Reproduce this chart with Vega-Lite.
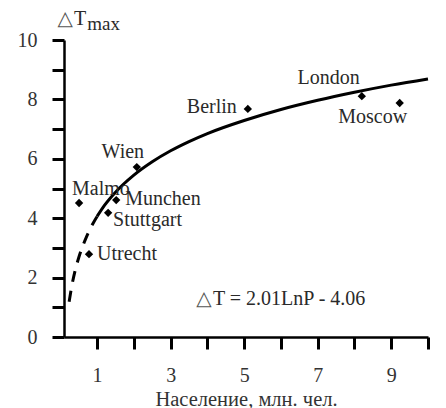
{
  "$schema": "https://vega.github.io/schema/vega-lite/v6.json",
  "autosize": "none",
  "width": 364,
  "height": 297,
  "padding": {"left": 64, "top": 40, "right": 18, "bottom": 71},
  "background": "white",
  "config": {
    "view": {"stroke": null},
    "font": "Liberation Serif",
    "axis": {
      "grid": false,
      "domainColor": "black",
      "domainWidth": 2.5,
      "tickColor": "black",
      "tickWidth": 3,
      "tickSize": 12,
      "labelFont": "Liberation Serif",
      "labelFontSize": 20,
      "labelColor": "#333",
      "titleFont": "Liberation Serif",
      "titleFontWeight": "normal",
      "titleColor": "#333"
    },
    "text": {"font": "Liberation Serif", "fontSize": 20, "color": "#2a2a2a"}
  },
  "datasets": {
    "cities": [
      {"city": "Malmo", "P": 0.51, "dT": 4.51},
      {"city": "Munchen", "P": 1.52, "dT": 4.61},
      {"city": "Stuttgart", "P": 1.3, "dT": 4.18},
      {"city": "Utrecht", "P": 0.78, "dT": 2.79},
      {"city": "Wien", "P": 2.08, "dT": 5.72},
      {"city": "Berlin", "P": 5.1, "dT": 7.68},
      {"city": "London", "P": 8.2, "dT": 8.11},
      {"city": "Moscow", "P": 9.23, "dT": 7.88}
    ],
    "curve": [
      {"part": "dashed", "P": 0.24, "dT": 1.19},
      {"part": "dashed", "P": 0.3, "dT": 1.64},
      {"part": "dashed", "P": 0.4, "dT": 2.22},
      {"part": "dashed", "P": 0.5, "dT": 2.67},
      {"part": "dashed", "P": 0.6, "dT": 3.03},
      {"part": "dashed", "P": 0.7, "dT": 3.34},
      {"part": "dashed", "P": 0.8, "dT": 3.61},
      {"part": "dashed", "P": 0.9, "dT": 3.85},
      {"part": "dashed", "P": 1.0, "dT": 4.06},
      {"part": "solid", "P": 1.0, "dT": 4.06},
      {"part": "solid", "P": 1.2, "dT": 4.43},
      {"part": "solid", "P": 1.5, "dT": 4.875},
      {"part": "solid", "P": 2.0, "dT": 5.45},
      {"part": "solid", "P": 2.5, "dT": 5.9},
      {"part": "solid", "P": 3.0, "dT": 6.27},
      {"part": "solid", "P": 3.5, "dT": 6.58},
      {"part": "solid", "P": 4.0, "dT": 6.85},
      {"part": "solid", "P": 5.0, "dT": 7.29},
      {"part": "solid", "P": 6.0, "dT": 7.66},
      {"part": "solid", "P": 7.0, "dT": 7.97},
      {"part": "solid", "P": 8.0, "dT": 8.24},
      {"part": "solid", "P": 9.0, "dT": 8.48},
      {"part": "solid", "P": 10.0, "dT": 8.69}
    ],
    "notes": [
      {"kind": "tri", "text": "△", "P": 3.7, "dT": 1.08},
      {"kind": "main", "text": "T = 2.01LnP - 4.06", "P": 4.15, "dT": 1.08},
      {"kind": "tri", "text": "△", "P": -0.08, "dT": 10.5},
      {"kind": "main", "text": "T", "P": 0.375, "dT": 10.5},
      {"kind": "sub", "text": "max", "P": 0.73, "dT": 10.34}
    ]
  },
  "encoding": {
    "x": {
      "field": "P", "type": "quantitative",
      "scale": {"domain": [0.1, 10], "nice": false, "zero": false},
      "axis": {
        "values": [1, 2, 3, 4, 5, 6, 7, 8, 9, 10],
        "labelExpr": "datum.value % 2 == 1 ? datum.label : ''",
        "labelPadding": 16,
        "title": "Население, млн. чел.",
        "titleFontSize": 20.5,
        "titlePadding": 4
      }
    },
    "y": {
      "field": "dT", "type": "quantitative",
      "scale": {"domain": [0, 10], "nice": false},
      "axis": {
        "values": [0, 1, 2, 3, 4, 5, 6, 7, 8, 9, 10],
        "labelExpr": "datum.value % 2 == 0 ? datum.label : ''",
        "labelPadding": 15,
        "title": null
      }
    }
  },
  "layer": [
    {
      "data": {"name": "curve"},
      "transform": [{"filter": "datum.part == 'dashed'"}],
      "mark": {"type": "line", "color": "black", "strokeWidth": 3, "strokeDash": [11, 9], "interpolate": "monotone"}
    },
    {
      "data": {"name": "curve"},
      "transform": [{"filter": "datum.part == 'solid'"}],
      "mark": {"type": "line", "color": "black", "strokeWidth": 3, "interpolate": "monotone"}
    },
    {
      "data": {"name": "cities"},
      "mark": {"type": "point", "shape": "diamond", "filled": true, "color": "black", "size": 70, "opacity": 1}
    },
    {
      "data": {"name": "cities"},
      "transform": [{"filter": "datum.city == 'Malmo'"}],
      "mark": {"type": "text", "align": "left", "baseline": "alphabetic", "dx": -7, "dy": -8},
      "encoding": {"text": {"field": "city"}}
    },
    {
      "data": {"name": "cities"},
      "transform": [{"filter": "datum.city == 'Munchen'"}],
      "mark": {"type": "text", "align": "left", "baseline": "alphabetic", "dx": 9, "dy": 5},
      "encoding": {"text": {"field": "city"}}
    },
    {
      "data": {"name": "cities"},
      "transform": [{"filter": "datum.city == 'Stuttgart'"}],
      "mark": {"type": "text", "align": "left", "baseline": "alphabetic", "dx": 5, "dy": 13},
      "encoding": {"text": {"field": "city"}}
    },
    {
      "data": {"name": "cities"},
      "transform": [{"filter": "datum.city == 'Utrecht'"}],
      "mark": {"type": "text", "align": "left", "baseline": "alphabetic", "dx": 8, "dy": 6},
      "encoding": {"text": {"field": "city"}}
    },
    {
      "data": {"name": "cities"},
      "transform": [{"filter": "datum.city == 'Wien'"}],
      "mark": {"type": "text", "align": "center", "baseline": "alphabetic", "dx": -14, "dy": -9},
      "encoding": {"text": {"field": "city"}}
    },
    {
      "data": {"name": "cities"},
      "transform": [{"filter": "datum.city == 'Berlin'"}],
      "mark": {"type": "text", "align": "right", "baseline": "alphabetic", "dx": -11, "dy": 4},
      "encoding": {"text": {"field": "city"}}
    },
    {
      "data": {"name": "cities"},
      "transform": [{"filter": "datum.city == 'London'"}],
      "mark": {"type": "text", "align": "right", "baseline": "alphabetic", "dx": -2, "dy": -12},
      "encoding": {"text": {"field": "city"}}
    },
    {
      "data": {"name": "cities"},
      "transform": [{"filter": "datum.city == 'Moscow'"}],
      "mark": {"type": "text", "align": "center", "baseline": "alphabetic", "dx": -27, "dy": 20},
      "encoding": {"text": {"field": "city"}}
    },
    {
      "data": {"name": "notes"},
      "transform": [{"filter": "datum.kind == 'tri'"}],
      "mark": {"type": "text", "align": "left", "baseline": "alphabetic", "font": "DejaVu Sans", "fontSize": 20, "color": "#555"},
      "encoding": {"text": {"field": "text"}}
    },
    {
      "data": {"name": "notes"},
      "transform": [{"filter": "datum.kind == 'main'"}],
      "mark": {"type": "text", "align": "left", "baseline": "alphabetic", "fontSize": 20},
      "encoding": {"text": {"field": "text"}}
    },
    {
      "data": {"name": "notes"},
      "transform": [{"filter": "datum.kind == 'sub'"}],
      "mark": {"type": "text", "align": "left", "baseline": "alphabetic", "fontSize": 19},
      "encoding": {"text": {"field": "text"}}
    }
  ]
}
